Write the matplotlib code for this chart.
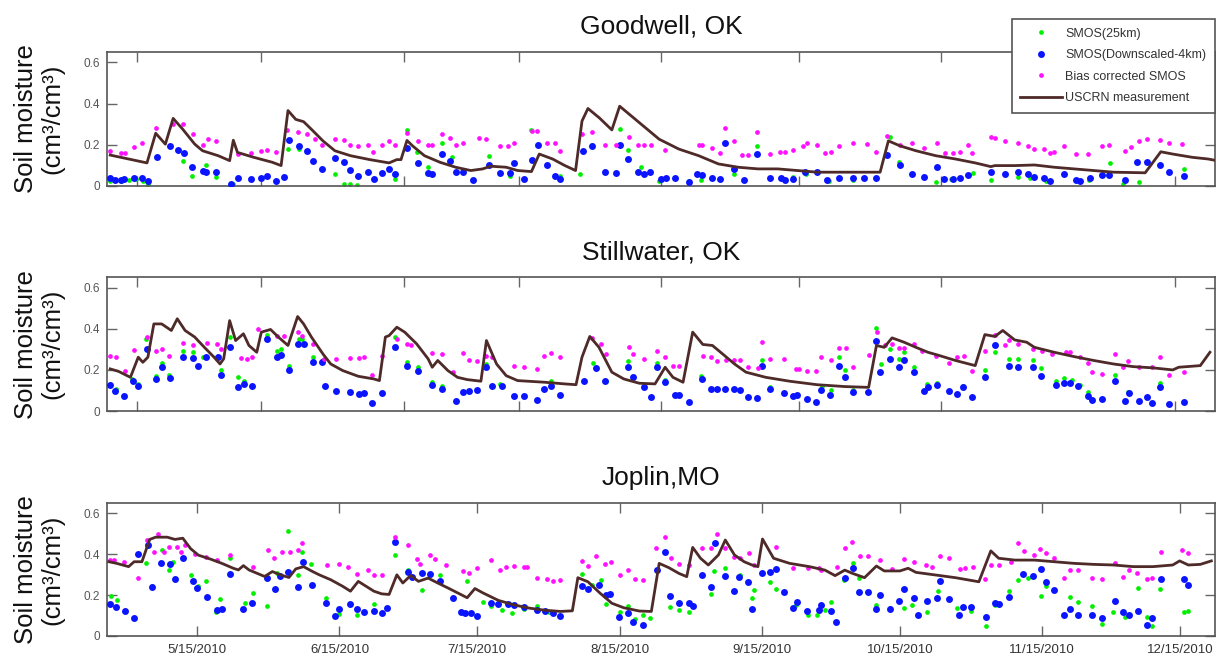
import numpy as np
import pandas as pd
import matplotlib
matplotlib.use("Agg")
import matplotlib.pyplot as plt
from matplotlib.lines import Line2D

plt.rcParams['font.family'] = ['Liberation Sans', 'DejaVu Sans']

# Each series: rows of [day of year 2010, soil moisture (cm3/cm3)]

# ---------------- Goodwell, OK ----------------
gw_uscrn = np.array([
    [116.1, 0.150], [124.1, 0.112], [126.0, 0.256], [128.1, 0.203], [129.8, 0.328], [131.9, 0.275],
    [134.5, 0.203], [136.2, 0.171], [139.6, 0.147], [142.1, 0.123], [142.9, 0.222], [143.8, 0.163],
    [147.2, 0.140], [151.4, 0.115], [153.3, 0.099], [154.8, 0.366], [156.5, 0.323], [158.2, 0.312],
    [159.9, 0.275], [162.4, 0.219], [165.0, 0.171], [168.4, 0.147], [172.6, 0.128], [176.8, 0.112],
    [178.5, 0.128], [179.4, 0.128], [180.7, 0.221], [181.9, 0.195], [184.5, 0.147], [187.9, 0.115],
    [191.3, 0.091], [194.6, 0.075], [197.2, 0.083], [198.9, 0.096], [202.3, 0.091], [204.8, 0.075],
    [207.8, 0.070], [209.5, 0.155], [212.4, 0.131], [215.0, 0.100], [217.4, 0.075], [218.8, 0.315],
    [220.1, 0.376], [222.6, 0.330], [225.3, 0.272], [227.0, 0.387], [231.3, 0.307], [235.6, 0.227],
    [239.9, 0.179], [244.2, 0.147], [248.5, 0.107], [252.8, 0.091], [257.1, 0.083], [261.4, 0.083],
    [265.7, 0.075], [270.0, 0.067], [278.6, 0.067], [283.7, 0.067], [285.5, 0.219], [288.0, 0.195],
    [291.5, 0.171], [295.8, 0.147], [300.1, 0.131], [304.4, 0.112], [307.8, 0.094], [308.7, 0.099],
    [313.0, 0.099], [317.3, 0.102], [321.6, 0.091], [325.9, 0.083], [330.2, 0.075], [334.5, 0.067],
    [341.4, 0.064], [344.8, 0.166], [347.4, 0.155], [351.7, 0.139], [355.1, 0.131], [356.5, 0.125],
])
gw_smos25 = np.array([
    [116.1, 0.024], [118.4, 0.024], [120.1, 0.027], [121.8, 0.035], [123.3, 0.022], [124.3, 0.011],
    [131.9, 0.120], [134.0, 0.050], [137.0, 0.104], [139.1, 0.043], [142.9, 0.011], [154.8, 0.180],
    [157.2, 0.180], [165.0, 0.060], [167.1, 0.011], [168.4, 0.011], [169.9, 0.006], [178.1, 0.035],
    [180.7, 0.270], [182.9, 0.163], [185.3, 0.090], [188.3, 0.210], [190.4, 0.140], [198.5, 0.144],
    [203.1, 0.050], [207.8, 0.270], [214.1, 0.050], [218.4, 0.060], [220.9, 0.200], [227.0, 0.278],
    [228.9, 0.176], [231.7, 0.090], [235.6, 0.022], [242.0, 0.022], [244.6, 0.027], [252.0, 0.060],
    [256.9, 0.192], [262.3, 0.035], [264.8, 0.043], [267.6, 0.056], [272.6, 0.022], [277.7, 0.027],
    [285.9, 0.240], [287.9, 0.115], [295.8, 0.019], [299.2, 0.032], [303.9, 0.064], [307.8, 0.027],
    [313.8, 0.046], [316.4, 0.038], [319.9, 0.024], [329.1, 0.027], [333.8, 0.110], [336.6, 0.011],
    [340.1, 0.019], [349.8, 0.083],
])
gw_smos4km = np.array([
    [116.1, 0.040], [117.1, 0.027], [118.4, 0.027], [119.2, 0.035], [121.3, 0.040], [123.0, 0.040],
    [124.3, 0.022], [126.2, 0.142], [129.1, 0.192], [130.8, 0.176], [132.1, 0.160], [134.0, 0.090],
    [136.2, 0.075], [137.0, 0.067], [139.1, 0.067], [142.4, 0.008], [144.0, 0.040], [146.8, 0.035],
    [148.9, 0.040], [150.2, 0.048], [152.1, 0.022], [154.0, 0.043], [155.0, 0.224], [157.2, 0.195],
    [159.0, 0.168], [160.3, 0.120], [162.3, 0.083], [165.0, 0.134], [167.1, 0.115], [168.4, 0.080],
    [170.1, 0.050], [172.2, 0.067], [173.5, 0.035], [175.2, 0.062], [176.8, 0.083], [178.1, 0.060],
    [180.7, 0.182], [183.2, 0.112], [185.3, 0.062], [186.2, 0.060], [188.3, 0.155], [190.0, 0.123],
    [191.3, 0.070], [192.9, 0.067], [195.1, 0.030], [198.5, 0.104], [201.0, 0.062], [203.1, 0.064],
    [204.0, 0.112], [206.1, 0.032], [208.0, 0.126], [209.2, 0.198], [211.2, 0.104], [212.9, 0.050],
    [214.1, 0.035], [219.0, 0.170], [220.9, 0.195], [223.9, 0.067], [226.1, 0.064], [227.0, 0.200],
    [228.9, 0.131], [230.9, 0.067], [232.2, 0.060], [233.7, 0.067], [235.9, 0.035], [237.1, 0.040],
    [239.0, 0.040], [242.0, 0.019], [243.8, 0.060], [244.9, 0.051], [247.0, 0.040], [248.9, 0.035],
    [250.0, 0.208], [251.8, 0.083], [254.1, 0.027], [256.9, 0.155], [259.8, 0.040], [262.1, 0.040],
    [263.1, 0.027], [264.8, 0.035], [267.4, 0.067], [270.0, 0.067], [272.1, 0.027], [274.7, 0.040],
    [277.7, 0.040], [280.1, 0.040], [282.9, 0.040], [285.3, 0.150], [288.0, 0.100], [290.6, 0.056],
    [293.2, 0.046], [296.0, 0.091], [297.5, 0.035], [299.5, 0.035], [301.0, 0.040], [302.8, 0.051],
    [307.8, 0.067], [310.8, 0.060], [313.8, 0.070], [316.0, 0.060], [317.3, 0.046], [319.4, 0.040],
    [320.7, 0.022], [323.7, 0.060], [326.3, 0.027], [327.2, 0.022], [329.3, 0.040], [331.9, 0.051],
    [333.6, 0.051], [337.1, 0.027], [339.6, 0.115], [341.8, 0.118], [344.6, 0.102], [346.5, 0.067],
    [349.8, 0.048],
])
gw_biascorr = np.array([
    [116.1, 0.170], [118.4, 0.160], [119.4, 0.160], [121.3, 0.190], [123.1, 0.210], [126.0, 0.280],
    [129.8, 0.300], [131.9, 0.300], [134.2, 0.250], [136.2, 0.200], [137.3, 0.230], [139.1, 0.220],
    [144.0, 0.155], [146.8, 0.160], [148.9, 0.170], [150.2, 0.176], [152.1, 0.166], [154.6, 0.270],
    [156.9, 0.260], [159.0, 0.250], [160.7, 0.227], [162.3, 0.200], [165.0, 0.230], [167.1, 0.222],
    [168.4, 0.200], [170.1, 0.195], [172.2, 0.200], [173.3, 0.166], [175.2, 0.200], [176.8, 0.220],
    [178.1, 0.200], [180.7, 0.256], [183.2, 0.220], [185.3, 0.200], [186.2, 0.200], [188.3, 0.250],
    [190.0, 0.235], [191.3, 0.200], [192.9, 0.210], [196.3, 0.235], [198.0, 0.227], [201.0, 0.195],
    [202.7, 0.195], [204.0, 0.210], [208.0, 0.267], [209.0, 0.267], [211.2, 0.210], [212.9, 0.210],
    [214.0, 0.170], [218.8, 0.250], [220.9, 0.264], [223.9, 0.200], [226.1, 0.200], [229.1, 0.240],
    [230.9, 0.200], [232.2, 0.200], [233.9, 0.200], [236.9, 0.176], [244.2, 0.198], [244.9, 0.198],
    [247.0, 0.182], [248.9, 0.160], [250.0, 0.283], [251.8, 0.220], [253.7, 0.150], [254.9, 0.150],
    [256.9, 0.260], [259.8, 0.155], [261.8, 0.163], [263.1, 0.166], [264.8, 0.176], [267.0, 0.195],
    [267.8, 0.208], [270.0, 0.200], [271.7, 0.160], [273.0, 0.163], [274.7, 0.195], [277.7, 0.210],
    [280.8, 0.206], [282.9, 0.163], [285.3, 0.243], [288.0, 0.200], [290.6, 0.210], [293.2, 0.182],
    [296.0, 0.208], [297.9, 0.160], [299.5, 0.160], [301.0, 0.163], [302.8, 0.198], [303.7, 0.160],
    [307.8, 0.238], [308.7, 0.232], [310.8, 0.220], [313.8, 0.210], [316.0, 0.195], [317.3, 0.180],
    [319.4, 0.180], [320.7, 0.160], [321.6, 0.165], [323.7, 0.195], [326.3, 0.155], [328.9, 0.155],
    [331.9, 0.195], [333.6, 0.198], [337.1, 0.171], [338.3, 0.187], [340.1, 0.220], [341.8, 0.230],
    [344.6, 0.224], [346.5, 0.208], [349.5, 0.203],
])

# ---------------- Stillwater, OK ----------------
sw_uscrn = np.array([
    [116.1, 0.205], [117.9, 0.193], [120.5, 0.164], [122.2, 0.262], [123.2, 0.237], [124.3, 0.262],
    [125.6, 0.424], [127.3, 0.424], [129.4, 0.392], [130.7, 0.449], [132.4, 0.392], [134.5, 0.360],
    [136.6, 0.310], [138.7, 0.262], [140.0, 0.229], [140.8, 0.254], [142.1, 0.440], [143.4, 0.343],
    [145.1, 0.376], [146.3, 0.319], [148.0, 0.286], [149.0, 0.384], [151.0, 0.397], [152.7, 0.360],
    [154.8, 0.319], [156.9, 0.460], [158.2, 0.424], [159.9, 0.360], [162.4, 0.278], [164.1, 0.229],
    [166.7, 0.197], [170.1, 0.169], [173.5, 0.156], [174.7, 0.148], [176.0, 0.360], [176.8, 0.367],
    [178.5, 0.408], [180.2, 0.384], [182.8, 0.327], [185.3, 0.254], [186.2, 0.213], [187.4, 0.246],
    [189.6, 0.197], [191.7, 0.164], [193.8, 0.153], [196.8, 0.145], [198.0, 0.343], [200.2, 0.229],
    [202.3, 0.172], [204.8, 0.148], [210.7, 0.140], [215.0, 0.132], [217.5, 0.128], [218.8, 0.262],
    [220.5, 0.363], [222.5, 0.310], [225.3, 0.189], [227.9, 0.156], [231.3, 0.135], [234.7, 0.132],
    [236.9, 0.213], [238.6, 0.164], [240.8, 0.140], [242.9, 0.384], [245.1, 0.324], [247.2, 0.319],
    [249.4, 0.278], [252.0, 0.229], [254.5, 0.189], [258.8, 0.164], [264.0, 0.145], [270.0, 0.128],
    [276.0, 0.119], [281.2, 0.115], [282.9, 0.319], [284.6, 0.310], [286.3, 0.356], [288.9, 0.335],
    [291.5, 0.310], [294.1, 0.286], [296.6, 0.270], [300.1, 0.246], [304.4, 0.221], [306.5, 0.372],
    [308.7, 0.363], [310.4, 0.392], [313.0, 0.346], [315.6, 0.335], [317.3, 0.310], [321.6, 0.286],
    [325.9, 0.265], [330.2, 0.246], [334.5, 0.229], [338.8, 0.216], [343.1, 0.210], [347.4, 0.200],
    [348.7, 0.213], [353.4, 0.221], [355.5, 0.286],
])
sw_smos25 = np.array([
    [116.1, 0.132], [117.3, 0.107], [120.9, 0.156], [122.2, 0.132], [123.9, 0.351], [126.0, 0.169],
    [127.3, 0.233], [129.0, 0.177], [131.9, 0.294], [134.2, 0.286], [136.2, 0.265], [139.6, 0.262],
    [140.2, 0.200], [142.1, 0.359], [144.0, 0.164], [145.3, 0.148], [150.2, 0.372], [152.3, 0.294],
    [153.3, 0.302], [155.0, 0.221], [157.2, 0.351], [157.8, 0.351], [160.3, 0.262], [162.4, 0.249],
    [178.1, 0.359], [180.7, 0.237], [183.2, 0.213], [186.2, 0.140], [188.3, 0.124], [198.0, 0.229],
    [201.0, 0.132], [212.0, 0.148], [219.2, 0.148], [221.3, 0.233], [224.0, 0.148], [228.9, 0.242],
    [230.0, 0.164], [232.2, 0.115], [235.2, 0.233], [236.9, 0.151], [244.6, 0.172], [258.0, 0.249],
    [259.8, 0.115], [271.0, 0.124], [273.0, 0.102], [274.7, 0.265], [276.0, 0.200], [277.7, 0.102],
    [282.9, 0.405], [283.9, 0.229], [285.9, 0.302], [287.9, 0.254], [288.9, 0.286], [291.1, 0.216],
    [293.9, 0.132], [296.0, 0.135], [301.8, 0.124], [306.5, 0.200], [308.7, 0.286], [311.7, 0.254],
    [313.8, 0.254], [316.9, 0.249], [318.8, 0.210], [322.0, 0.148], [323.7, 0.161], [325.4, 0.151],
    [327.2, 0.128], [328.9, 0.091], [334.9, 0.177], [337.7, 0.091], [344.6, 0.135],
])
sw_smos4km = np.array([
    [116.1, 0.128], [117.1, 0.096], [119.2, 0.075], [121.1, 0.148], [122.2, 0.124], [124.1, 0.302],
    [126.0, 0.156], [127.3, 0.213], [129.1, 0.159], [131.9, 0.265], [134.2, 0.259], [135.2, 0.221],
    [137.0, 0.265], [139.6, 0.265], [140.2, 0.177], [142.1, 0.311], [144.0, 0.119], [145.3, 0.132],
    [147.0, 0.120], [150.2, 0.351], [152.3, 0.265], [153.3, 0.275], [155.0, 0.200], [156.9, 0.327],
    [158.2, 0.327], [160.3, 0.237], [162.3, 0.237], [162.9, 0.124], [165.2, 0.096], [168.2, 0.091],
    [170.2, 0.083], [171.3, 0.088], [173.0, 0.039], [175.2, 0.086], [178.1, 0.314], [180.7, 0.221],
    [183.2, 0.193], [186.2, 0.128], [188.3, 0.107], [191.3, 0.050], [192.9, 0.091], [194.2, 0.096],
    [195.9, 0.102], [198.0, 0.213], [199.3, 0.124], [201.3, 0.124], [204.0, 0.072], [206.1, 0.072],
    [209.0, 0.054], [210.6, 0.107], [212.0, 0.124], [214.1, 0.080], [219.2, 0.145], [221.8, 0.210],
    [223.9, 0.148], [228.9, 0.213], [230.0, 0.164], [232.2, 0.115], [233.9, 0.067], [235.2, 0.213],
    [236.9, 0.140], [239.0, 0.078], [239.9, 0.078], [242.0, 0.042], [244.9, 0.156], [246.9, 0.107],
    [248.1, 0.107], [250.0, 0.107], [252.0, 0.107], [253.2, 0.102], [254.9, 0.067], [256.9, 0.063],
    [258.0, 0.221], [259.8, 0.107], [262.7, 0.086], [264.8, 0.072], [265.7, 0.078], [267.8, 0.059],
    [269.8, 0.042], [270.9, 0.102], [272.7, 0.078], [274.7, 0.221], [276.0, 0.164], [277.7, 0.091],
    [281.0, 0.091], [282.9, 0.343], [283.7, 0.189], [285.9, 0.254], [287.9, 0.213], [288.9, 0.246],
    [291.1, 0.189], [293.2, 0.099], [294.1, 0.115], [296.0, 0.128], [298.8, 0.096], [300.5, 0.083],
    [301.8, 0.115], [303.7, 0.067], [306.5, 0.164], [308.7, 0.319], [311.7, 0.221], [313.8, 0.213],
    [316.9, 0.213], [318.8, 0.172], [322.0, 0.128], [323.7, 0.135], [325.0, 0.135], [326.7, 0.124],
    [328.9, 0.075], [329.8, 0.054], [331.9, 0.059], [334.9, 0.148], [336.9, 0.047], [337.9, 0.086],
    [340.1, 0.050], [341.8, 0.070], [342.9, 0.037], [344.6, 0.115], [346.5, 0.034], [349.8, 0.042],
])
sw_biascorr = np.array([
    [116.1, 0.270], [117.3, 0.265], [119.4, 0.193], [121.2, 0.298], [124.1, 0.360], [126.0, 0.291],
    [127.3, 0.302], [129.0, 0.270], [131.9, 0.332], [134.2, 0.319], [137.2, 0.332], [139.3, 0.327],
    [140.2, 0.301], [144.6, 0.258], [145.9, 0.254], [147.0, 0.265], [148.2, 0.397], [152.3, 0.367],
    [154.0, 0.363], [156.9, 0.384], [157.8, 0.367], [160.3, 0.327], [162.6, 0.254], [165.2, 0.254],
    [168.2, 0.257], [170.2, 0.257], [171.3, 0.262], [173.0, 0.176], [175.2, 0.270], [178.5, 0.351],
    [180.7, 0.327], [181.5, 0.319], [186.2, 0.281], [188.3, 0.278], [190.8, 0.189], [192.9, 0.281],
    [194.2, 0.246], [195.9, 0.242], [198.0, 0.270], [199.3, 0.262], [204.0, 0.221], [206.1, 0.216],
    [209.0, 0.205], [210.6, 0.270], [212.0, 0.281], [214.1, 0.262], [220.9, 0.356], [223.0, 0.327],
    [224.0, 0.278], [229.1, 0.314], [230.0, 0.278], [232.2, 0.254], [235.2, 0.294], [236.9, 0.262],
    [238.6, 0.221], [239.9, 0.221], [245.1, 0.270], [246.9, 0.265], [248.1, 0.242], [250.2, 0.249],
    [252.0, 0.249], [253.2, 0.249], [254.9, 0.213], [257.1, 0.210], [258.0, 0.335], [259.8, 0.254],
    [262.7, 0.254], [265.3, 0.205], [266.1, 0.205], [267.8, 0.197], [269.8, 0.193], [270.9, 0.265],
    [273.0, 0.249], [274.7, 0.307], [276.2, 0.307], [277.7, 0.216], [281.2, 0.275], [283.1, 0.384],
    [284.8, 0.319], [286.2, 0.327], [287.9, 0.307], [288.9, 0.307], [291.1, 0.327], [292.8, 0.291],
    [295.8, 0.270], [298.8, 0.233], [300.5, 0.262], [302.0, 0.270], [303.7, 0.197], [306.5, 0.291],
    [308.7, 0.372], [310.8, 0.319], [311.7, 0.346], [313.8, 0.324], [316.9, 0.302], [319.0, 0.291],
    [321.1, 0.278], [324.2, 0.286], [325.0, 0.286], [327.2, 0.265], [328.9, 0.233], [329.8, 0.189],
    [331.9, 0.180], [334.9, 0.278], [336.6, 0.213], [337.7, 0.242], [340.1, 0.213], [342.9, 0.213],
    [344.6, 0.265], [346.5, 0.177], [349.8, 0.189],
])

# ---------------- Joplin, MO ----------------
jp_uscrn = np.array([
    [115.8, 0.363], [117.5, 0.355], [120.1, 0.339], [121.3, 0.363], [123.0, 0.363], [124.7, 0.472],
    [126.0, 0.483], [128.5, 0.483], [130.2, 0.472], [131.9, 0.478], [133.6, 0.427], [135.3, 0.395],
    [137.9, 0.376], [140.4, 0.355], [142.9, 0.331], [144.0, 0.323], [145.1, 0.344], [146.3, 0.323],
    [148.0, 0.307], [149.7, 0.291], [151.4, 0.315], [153.1, 0.299], [155.0, 0.286], [156.5, 0.328],
    [158.2, 0.339], [159.9, 0.318], [161.6, 0.299], [164.1, 0.275], [166.7, 0.243], [168.4, 0.219],
    [170.1, 0.267], [171.8, 0.243], [173.5, 0.219], [175.2, 0.206], [176.8, 0.203], [178.5, 0.299],
    [179.8, 0.259], [181.5, 0.296], [183.2, 0.267], [185.3, 0.283], [187.4, 0.259], [189.6, 0.235],
    [191.7, 0.211], [193.8, 0.187], [195.5, 0.232], [197.2, 0.211], [200.6, 0.174], [204.0, 0.152],
    [207.4, 0.136], [210.7, 0.126], [214.1, 0.120], [216.7, 0.123], [217.9, 0.285], [220.1, 0.265],
    [222.7, 0.210], [225.3, 0.160], [227.9, 0.138], [231.3, 0.122], [233.9, 0.120], [235.6, 0.355],
    [237.7, 0.334], [239.9, 0.306], [241.6, 0.290], [242.9, 0.433], [244.6, 0.380], [246.3, 0.347],
    [248.5, 0.396], [250.0, 0.469], [252.0, 0.396], [254.1, 0.363], [255.8, 0.347], [257.1, 0.339],
    [258.1, 0.474], [260.5, 0.380], [264.0, 0.355], [268.3, 0.339], [271.7, 0.322], [273.9, 0.295],
    [276.0, 0.322], [277.7, 0.306], [280.3, 0.285], [282.9, 0.342], [284.6, 0.318], [288.0, 0.318],
    [289.8, 0.331], [291.5, 0.311], [295.8, 0.298], [300.1, 0.285], [305.2, 0.265], [307.8, 0.416],
    [309.5, 0.380], [313.0, 0.371], [317.3, 0.371], [321.6, 0.363], [325.9, 0.355], [330.2, 0.350],
    [334.5, 0.347], [338.8, 0.339], [343.1, 0.339], [347.4, 0.347], [348.9, 0.367], [350.8, 0.347],
    [353.4, 0.350], [355.8, 0.367],
])
jp_smos25 = np.array([
    [116.3, 0.195], [117.5, 0.174], [123.9, 0.355], [125.2, 0.243], [127.3, 0.419], [129.0, 0.323],
    [129.8, 0.363], [133.6, 0.296], [135.3, 0.243], [137.0, 0.267], [139.1, 0.115], [140.0, 0.179],
    [142.1, 0.379], [145.5, 0.163], [147.2, 0.211], [150.2, 0.147], [152.3, 0.307], [154.8, 0.515],
    [156.9, 0.299], [157.8, 0.411], [159.9, 0.350], [163.1, 0.187], [165.8, 0.107], [169.9, 0.104],
    [173.5, 0.155], [178.1, 0.395], [180.9, 0.323], [184.0, 0.227], [185.7, 0.299], [187.9, 0.296],
    [193.8, 0.270], [197.2, 0.168], [198.9, 0.147], [201.4, 0.126], [203.5, 0.110], [206.1, 0.131],
    [209.0, 0.147], [211.6, 0.118], [218.8, 0.302], [220.9, 0.248], [223.0, 0.275], [224.0, 0.154],
    [227.0, 0.118], [228.9, 0.148], [230.4, 0.082], [232.0, 0.105], [233.7, 0.089], [238.0, 0.143],
    [239.9, 0.127], [242.0, 0.118], [246.9, 0.203], [247.6, 0.318], [250.0, 0.331], [253.2, 0.298],
    [255.8, 0.187], [256.2, 0.224], [259.8, 0.265], [261.0, 0.229], [265.3, 0.151], [268.1, 0.102],
    [270.0, 0.102], [271.7, 0.127], [273.0, 0.167], [275.8, 0.273], [277.7, 0.355], [279.0, 0.282],
    [282.9, 0.151], [285.9, 0.135], [288.9, 0.138], [290.6, 0.151], [293.9, 0.118], [296.2, 0.220],
    [300.5, 0.135], [303.5, 0.122], [306.8, 0.050], [308.7, 0.151], [311.7, 0.220], [313.8, 0.273],
    [316.0, 0.285], [318.8, 0.197], [319.9, 0.246], [325.0, 0.192], [326.7, 0.164], [329.8, 0.148],
    [331.9, 0.061], [334.5, 0.118], [337.1, 0.094], [339.8, 0.233], [341.8, 0.094], [342.9, 0.050],
    [344.6, 0.229], [349.8, 0.115], [350.8, 0.122],
])
jp_smos4km = np.array([
    [116.1, 0.157], [117.4, 0.144], [119.3, 0.120], [121.3, 0.090], [122.2, 0.403], [124.3, 0.446],
    [125.2, 0.240], [127.2, 0.355], [129.1, 0.350], [130.2, 0.278], [132.0, 0.379], [134.1, 0.269],
    [135.0, 0.235], [137.2, 0.192], [139.4, 0.125], [140.4, 0.134], [142.2, 0.302], [145.0, 0.134],
    [147.0, 0.163], [150.2, 0.283], [152.0, 0.230], [153.0, 0.293], [154.8, 0.312], [157.0, 0.240],
    [158.1, 0.360], [160.0, 0.250], [163.1, 0.163], [165.0, 0.096], [165.9, 0.134], [168.2, 0.155],
    [169.9, 0.131], [171.3, 0.115], [173.5, 0.123], [175.2, 0.110], [176.4, 0.139], [178.1, 0.459],
    [180.9, 0.315], [181.9, 0.286], [184.0, 0.307], [185.7, 0.302], [187.9, 0.267], [190.8, 0.187],
    [192.5, 0.115], [193.3, 0.110], [194.6, 0.110], [195.9, 0.096], [198.9, 0.160], [200.6, 0.155],
    [202.7, 0.158], [204.0, 0.152], [206.1, 0.142], [209.0, 0.126], [210.7, 0.120], [212.4, 0.110],
    [214.1, 0.099], [218.8, 0.243], [220.1, 0.232], [222.6, 0.250], [224.0, 0.200], [224.8, 0.205],
    [226.8, 0.094], [228.9, 0.110], [230.0, 0.069], [232.0, 0.053], [235.2, 0.322], [236.9, 0.409],
    [238.0, 0.197], [239.9, 0.159], [242.0, 0.159], [242.9, 0.148], [244.9, 0.298], [246.9, 0.241],
    [247.8, 0.453], [250.0, 0.295], [252.0, 0.220], [253.0, 0.290], [254.9, 0.262], [255.8, 0.131],
    [258.0, 0.306], [259.8, 0.314], [261.0, 0.327], [262.7, 0.216], [264.8, 0.135], [265.7, 0.164],
    [267.8, 0.122], [270.4, 0.127], [270.9, 0.151], [273.0, 0.122], [274.1, 0.066], [276.0, 0.282],
    [277.7, 0.334], [279.0, 0.216], [281.0, 0.216], [282.9, 0.131], [283.7, 0.200], [285.9, 0.131],
    [287.9, 0.171], [288.9, 0.229], [291.1, 0.187], [291.9, 0.105], [293.9, 0.171], [296.0, 0.184],
    [296.8, 0.269], [298.8, 0.180], [300.8, 0.105], [301.8, 0.143], [303.5, 0.143], [306.8, 0.094],
    [308.7, 0.159], [309.5, 0.154], [311.7, 0.192], [314.7, 0.301], [316.9, 0.295], [318.8, 0.327],
    [319.9, 0.265], [321.6, 0.224], [323.7, 0.102], [325.0, 0.131], [326.7, 0.105], [329.8, 0.102],
    [331.9, 0.089], [334.9, 0.171], [336.6, 0.118], [337.9, 0.102], [339.8, 0.122], [341.8, 0.053],
    [342.9, 0.086], [344.8, 0.278], [349.8, 0.278], [350.8, 0.249],
])
jp_biascorr = np.array([
    [116.1, 0.371], [116.9, 0.371], [119.2, 0.363], [122.2, 0.283], [124.1, 0.467], [125.6, 0.411],
    [126.4, 0.499], [127.7, 0.411], [129.0, 0.435], [130.7, 0.435], [131.5, 0.411], [132.4, 0.446],
    [134.5, 0.403], [137.0, 0.387], [139.3, 0.371], [142.1, 0.398], [147.2, 0.339], [150.4, 0.419],
    [151.8, 0.379], [153.5, 0.411], [155.2, 0.411], [156.9, 0.419], [157.8, 0.456], [163.3, 0.347],
    [165.8, 0.350], [167.9, 0.339], [169.9, 0.302], [172.2, 0.323], [173.5, 0.299], [175.2, 0.299],
    [178.1, 0.483], [180.9, 0.443], [182.8, 0.376], [183.6, 0.350], [185.7, 0.395], [186.8, 0.376],
    [189.1, 0.347], [192.9, 0.318], [194.2, 0.307], [195.9, 0.331], [198.9, 0.371], [201.0, 0.323],
    [202.3, 0.339], [204.0, 0.344], [206.1, 0.339], [206.9, 0.339], [209.0, 0.283], [211.2, 0.278],
    [212.4, 0.270], [214.1, 0.275], [218.8, 0.368], [220.1, 0.344], [221.8, 0.392], [223.9, 0.352],
    [225.1, 0.360], [227.0, 0.298], [228.9, 0.322], [230.3, 0.278], [232.0, 0.273], [234.9, 0.429],
    [236.9, 0.486], [238.2, 0.380], [239.9, 0.350], [242.0, 0.347], [244.9, 0.429], [246.9, 0.429],
    [248.1, 0.497], [250.0, 0.429], [252.0, 0.388], [253.2, 0.380], [255.2, 0.404], [256.2, 0.347],
    [261.0, 0.437], [264.8, 0.334], [268.1, 0.331], [270.4, 0.331], [270.9, 0.322], [274.3, 0.339],
    [276.0, 0.429], [277.5, 0.458], [279.4, 0.393], [281.0, 0.393], [283.7, 0.371], [286.3, 0.327],
    [288.9, 0.376], [291.1, 0.363], [293.6, 0.347], [294.9, 0.339], [296.8, 0.393], [298.8, 0.380],
    [301.0, 0.327], [302.2, 0.334], [303.9, 0.339], [306.5, 0.278], [307.8, 0.347], [309.5, 0.347],
    [312.1, 0.363], [313.8, 0.453], [315.1, 0.416], [317.1, 0.396], [318.6, 0.425], [319.9, 0.404],
    [321.6, 0.380], [323.7, 0.282], [325.0, 0.322], [326.7, 0.322], [329.8, 0.285], [331.9, 0.278],
    [334.9, 0.355], [336.6, 0.290], [337.9, 0.322], [339.6, 0.306], [341.8, 0.278], [342.9, 0.285],
    [344.8, 0.409], [349.5, 0.420], [350.8, 0.404],
])

stations = ["Goodwell, OK", "Stillwater, OK", "Joplin,MO"]
series_labels = ["SMOS(25km)", "SMOS(Downscaled-4km)", "Bias corrected SMOS", "USCRN measurement"]
station_data = [
    (gw_smos25, gw_smos4km, gw_biascorr, gw_uscrn),
    (sw_smos25, sw_smos4km, sw_biascorr, sw_uscrn),
    (jp_smos25, jp_smos4km, jp_biascorr, jp_uscrn),
]

# axis ranges and ticks (day of year 2010)
x_range_doy = [115.4, 356.6]
upper_tick_doy = [122, 149, 180, 205, 236, 266, 297, 348]
lower_tick_dates = ["2010-05-15", "2010-06-15", "2010-07-15", "2010-08-15",
                    "2010-09-15", "2010-10-15", "2010-11-15", "2010-12-15"]
y_ticks = [0, 0.2, 0.4, 0.6]
y_tick_labels = ["0", "0.2", "0.4", "0.6"]


def doy_to_date(doy):
    return pd.Timestamp("2010-01-01") + pd.to_timedelta(np.asarray(doy, float) - 1.0, unit="D")


# styles
c_25 = "#00f000"
c_4k = "#0a14ff"
c_bc = "#ff10ff"
c_ln = "#4e2a28"
ms_small, ms_big = 3.4, 5.0

W, H = 1219, 658
fig = plt.figure(figsize=(W / 100, H / 100), dpi=100)


def panel_rect(top, bottom):
    return [107 / W, 1 - bottom / H, (1215 - 107) / W, (bottom - top) / H]


rects = [panel_rect(52, 186), panel_rect(277.5, 411), panel_rect(503, 636)]
axes = []
for i, (name, data, rect) in enumerate(zip(stations, station_data, rects)):
    s25, s4k, sbc, sus = data
    ax = fig.add_axes(rect)
    ax.plot(doy_to_date(s25[:, 0]), s25[:, 1], ls="none", marker="o", ms=ms_small,
            mfc=c_25, mec="none", zorder=2)
    ax.plot(doy_to_date(s4k[:, 0]), s4k[:, 1], ls="none", marker="o", ms=ms_big,
            mfc=c_4k, mec="none", zorder=3)
    ax.plot(doy_to_date(sbc[:, 0]), sbc[:, 1], ls="none", marker="o", ms=ms_small,
            mfc=c_bc, mec="none", zorder=4)
    ax.plot(doy_to_date(sus[:, 0]), sus[:, 1], color=c_ln, lw=2.0, zorder=5)

    ax.set_xlim(doy_to_date(x_range_doy))
    ax.set_ylim(0, 0.65)
    ax.set_yticks(y_ticks)
    ax.set_yticklabels(y_tick_labels)
    ax.tick_params(direction="in", length=7, width=1.0, colors="#666666",
                   top=True, right=True, labelsize=8.5, labelcolor="#555555", pad=5)
    for sp in ax.spines.values():
        sp.set_color("#555555")
        sp.set_linewidth(1.2)

    if i < 2:
        ax.set_xticks(doy_to_date(upper_tick_doy))
        ax.tick_params(axis="x", labelbottom=False)
    else:
        tds = pd.to_datetime(lower_tick_dates)
        ax.set_xticks(tds)
        ax.set_xticklabels([f"{d.month}/{d.day}/{d.year}" for d in tds])
        ax.tick_params(axis="x", labelsize=9.5, labelcolor="#333333", pad=6)

    ax.set_title(name, fontsize=19, pad=13, color="#111111")
    ax.set_ylabel("Soil moisture\n(cm³/cm³)", fontsize=18.5, linespacing=1.1, color="#111111")
    ax.yaxis.set_label_coords(-0.0385, 0.5)
    axes.append(ax)

handles = [
    Line2D([], [], ls="none", marker="o", ms=ms_small, mfc=c_25, mec="none"),
    Line2D([], [], ls="none", marker="o", ms=ms_big, mfc=c_4k, mec="none"),
    Line2D([], [], ls="none", marker="o", ms=ms_small, mfc=c_bc, mec="none"),
    Line2D([], [], color=c_ln, lw=2.0),
]
leg = axes[0].legend(handles, series_labels, loc="upper right",
                     bbox_to_anchor=(1215 / W, 1 - 19 / H), bbox_transform=fig.transFigure,
                     borderaxespad=0, fontsize=9, handlelength=3.3, handletextpad=0.3,
                     labelspacing=0.75, borderpad=0.7, fancybox=False, framealpha=1,
                     edgecolor="#555555")
leg.get_frame().set_linewidth(1.2)
for t in leg.get_texts():
    t.set_color("#333333")

fig.savefig("out.png", dpi=100)
